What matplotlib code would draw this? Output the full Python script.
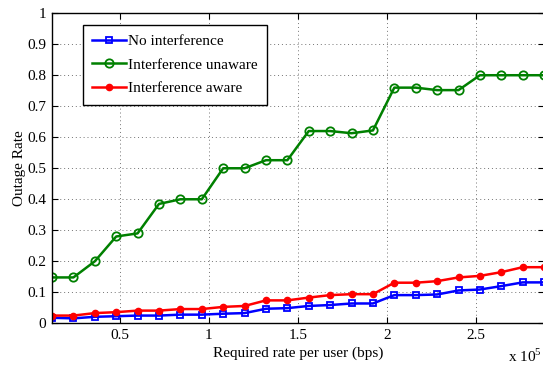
import matplotlib
matplotlib.use("Agg")
import matplotlib.pyplot as plt
import numpy as np

plt.rcParams["font.family"] = ["Liberation Serif", "DejaVu Serif"]
plt.rcParams["mathtext.fontset"] = "custom"
plt.rcParams["mathtext.rm"] = "Liberation Serif"

# required rate per user, in units of 1e5 bps
rate = np.arange(1, 25) * 0.12

no_interference = [0.018, 0.016, 0.021, 0.023, 0.025, 0.025, 0.028, 0.028,
                   0.031, 0.033, 0.047, 0.049, 0.056, 0.059, 0.064, 0.064,
                   0.091, 0.091, 0.093, 0.106, 0.109, 0.120, 0.132, 0.132]
interference_unaware = [0.148, 0.148, 0.200, 0.280, 0.290, 0.385, 0.400, 0.400,
                        0.500, 0.500, 0.526, 0.526, 0.620, 0.620, 0.613, 0.622,
                        0.760, 0.760, 0.752, 0.752, 0.800, 0.800, 0.800, 0.800]
interference_aware = [0.025, 0.025, 0.033, 0.036, 0.041, 0.041, 0.046, 0.046,
                      0.053, 0.056, 0.074, 0.074, 0.083, 0.091, 0.094, 0.094,
                      0.131, 0.131, 0.136, 0.148, 0.153, 0.165, 0.181, 0.181]

xticks = [0.5, 1, 1.5, 2, 2.5]
yticks = np.round(np.arange(0, 1.01, 0.1), 1)
ytick_labels = ["0"] + [f"{v:g}" for v in yticks[1:]]

fig = plt.figure(figsize=(5.43, 3.67), dpi=100)
ax = fig.add_axes([0.0958, 0.119, 0.9062, 0.845])

ax.plot(rate, no_interference, "-s", color="blue", lw=1.8, ms=5,
        mfc="none", mew=1.3, label="No interference")
ax.plot(rate, interference_unaware, "-o", color="green", lw=1.8, ms=6,
        mfc="none", mew=1.3, label="Interference unaware")
ax.plot(rate, interference_aware, "-o", color="red", lw=1.8, ms=4.5,
        label="Interference aware")

ax.set_xlim(0.12, 2.88)
ax.set_ylim(0, 1)
ax.set_xticks(xticks)
ax.set_xticklabels([f"{v:g}" for v in xticks])
ax.set_yticks(yticks)
ax.set_yticklabels(ytick_labels)
ax.tick_params(direction="in", top=True, right=True, length=4, labelsize=11,
               pad=4)
ax.grid(True, linestyle=(0, (1, 3)), color="0.45", lw=0.7)
for s in ax.spines.values():
    s.set_linewidth(1.0)

ax.set_xlabel("Required rate per user (bps)", fontsize=11, labelpad=3)
ax.set_ylabel("Outage Rate", fontsize=11, labelpad=1)
ax.text(0.996, -0.135, r"x 10$^5$", transform=ax.transAxes, fontsize=11,
        ha="right", va="bottom")

leg = ax.legend(loc="upper left", bbox_to_anchor=(0.063, 0.962), fontsize=11,
                fancybox=False, framealpha=1, edgecolor="black",
                handlelength=2.2, borderpad=0.6, labelspacing=0.66,
                handletextpad=0.15, borderaxespad=0)
leg.get_frame().set_linewidth(1.0)

fig.savefig("out.png", dpi=100)
